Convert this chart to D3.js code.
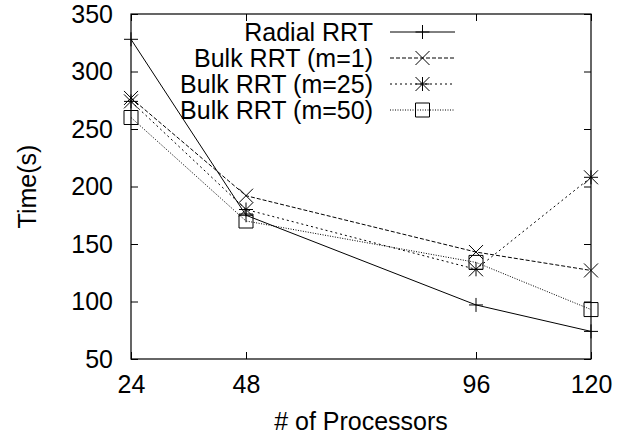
<!DOCTYPE html>
<html>
<head>
<meta charset="utf-8">
<script src="https://cdn.jsdelivr.net/npm/d3@7"></script>
<style>
  html, body { margin: 0; padding: 0; background: #fff; }
  svg { display: block; }
  text { font-family: "Liberation Sans", Arial, sans-serif; fill: #000; }
</style>
</head>
<body>
<svg id="chart" width="638" height="438"></svg>
<script>
// ---- data ----
const processors = [24, 48, 96, 120];
const radialRRT  = [328, 175, 97, 74];
const bulkM1     = [277, 192, 143, 127];
const bulkM25    = [274, 180, 128, 208];
const bulkM50    = [260, 170, 134, 93];
const seriesNames = ["Radial RRT", "Bulk RRT (m=1)", "Bulk RRT (m=25)", "Bulk RRT (m=50)"];
const yTicks = [50, 100, 150, 200, 250, 300, 350];
const xLabel = "# of Processors";
const yLabel = "Time(s)";

const seriesValues = [radialRRT, bulkM1, bulkM25, bulkM50];
const seriesStyle = [
  { dash: null,    marker: "plus" },
  { dash: "4,2",   marker: "cross" },
  { dash: "2,3",   marker: "star" },
  { dash: "1,1.5", marker: "square" }
];

const W = 638, H = 438;
const margin = { left: 131, right: 47, top: 14, bottom: 79 };
const fontSize = 25;

const svg = d3.select("#chart");
const x = d3.scaleLinear().domain([24, 120]).range([margin.left, W - margin.right]);
const y = d3.scaleLinear().domain([50, 350]).range([H - margin.bottom, margin.top]);

const tick = 7;

// axes
const gL = svg.append("g").attr("transform", `translate(${margin.left},0)`)
  .call(d3.axisLeft(y).tickValues(yTicks).tickSizeInner(-tick).tickSizeOuter(0).tickPadding(18));
const gB = svg.append("g").attr("transform", `translate(0,${H - margin.bottom})`)
  .call(d3.axisBottom(x).tickValues(processors).tickSizeInner(-tick).tickSizeOuter(0).tickPadding(16));
const gR = svg.append("g").attr("transform", `translate(${W - margin.right},0)`)
  .call(d3.axisRight(y).tickValues(yTicks).tickSizeInner(-tick).tickSizeOuter(0).tickFormat(""));
const gT = svg.append("g").attr("transform", `translate(0,${margin.top})`)
  .call(d3.axisTop(x).tickValues(processors).tickSizeInner(-tick).tickSizeOuter(0).tickFormat(""));

[gL, gB, gR, gT].forEach(g => {
  g.select(".domain").remove();
  g.selectAll("line").attr("stroke", "#000").attr("stroke-width", 1);
  g.selectAll("text").attr("font-size", fontSize).attr("font-family", "Liberation Sans, Arial, sans-serif").attr("fill", "#000");
});

svg.append("rect")
  .attr("x", margin.left).attr("y", margin.top)
  .attr("width", W - margin.left - margin.right)
  .attr("height", H - margin.top - margin.bottom)
  .attr("fill", "none").attr("stroke", "#000").attr("stroke-width", 1.2);

// axis titles
svg.append("text")
  .attr("x", (margin.left + W - margin.right) / 2).attr("y", 430)
  .attr("text-anchor", "middle").attr("font-size", fontSize)
  .text(xLabel);
svg.append("text")
  .attr("transform", `translate(36,${(margin.top + H - margin.bottom) / 2}) rotate(-90)`)
  .attr("text-anchor", "middle").attr("font-size", fontSize)
  .text(yLabel);

// markers
const ms = 7;
function drawMarker(g, type, cx, cy) {
  const p = d3.path();
  if (type === "plus" || type === "star") {
    p.moveTo(cx - ms, cy); p.lineTo(cx + ms, cy);
    p.moveTo(cx, cy - ms); p.lineTo(cx, cy + ms);
  }
  if (type === "cross" || type === "star") {
    p.moveTo(cx - ms, cy - ms); p.lineTo(cx + ms, cy + ms);
    p.moveTo(cx - ms, cy + ms); p.lineTo(cx + ms, cy - ms);
  }
  if (type === "square") {
    p.rect(cx - ms, cy - ms, 2 * ms, 2 * ms);
  }
  g.append("path").attr("d", p.toString())
    .attr("fill", "none").attr("stroke", "#000").attr("stroke-width", 1);
}

const line = d3.line().x(d => x(d[0])).y(d => y(d[1]));

seriesValues.forEach((vals, i) => {
  const pts = processors.map((p, j) => [p, vals[j]]);
  const g = svg.append("g");
  g.append("path").attr("d", line(pts))
    .attr("fill", "none").attr("stroke", "#000").attr("stroke-width", 1)
    .attr("stroke-dasharray", seriesStyle[i].dash);
  pts.forEach(d => drawMarker(g, seriesStyle[i].marker, x(d[0]), y(d[1])));
});

// legend
const legendTextRight = 373, legendLineX0 = 390, legendLineX1 = 455;
const legendRowY = d3.scaleLinear().domain([0, 3]).range([32, 110]);
seriesNames.forEach((name, i) => {
  const ly = legendRowY(i);
  const g = svg.append("g");
  g.append("text").attr("x", legendTextRight).attr("y", ly).attr("dy", "0.35em")
    .attr("text-anchor", "end").attr("font-size", fontSize).text(name);
  g.append("line").attr("x1", legendLineX0).attr("x2", legendLineX1)
    .attr("y1", ly).attr("y2", ly)
    .attr("stroke", "#000").attr("stroke-width", 1)
    .attr("stroke-dasharray", seriesStyle[i].dash);
  drawMarker(g, seriesStyle[i].marker, (legendLineX0 + legendLineX1) / 2, ly);
});
</script>
</body>
</html>
